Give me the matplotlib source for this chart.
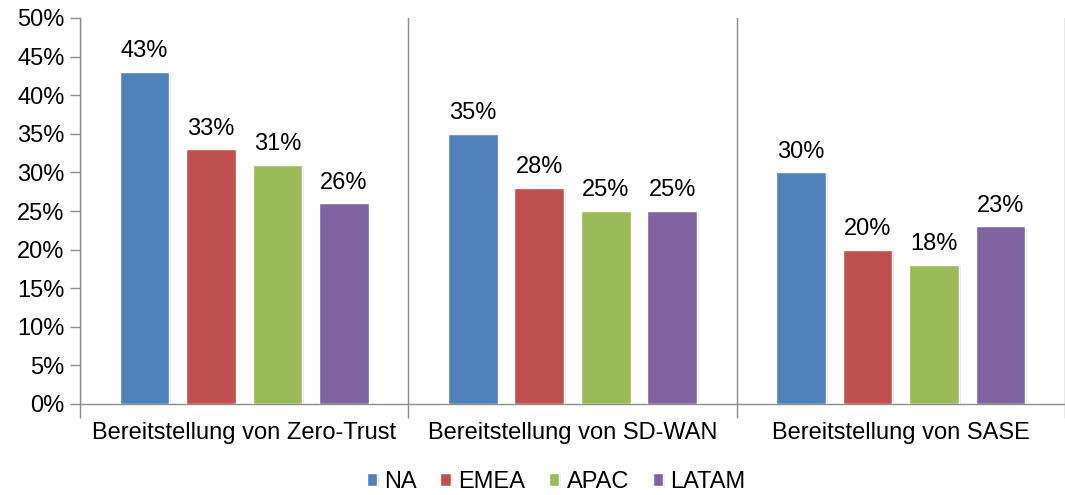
import numpy as np
import matplotlib.pyplot as plt
import matplotlib.patheffects as pe
from matplotlib.ticker import PercentFormatter

categories = ["Bereitstellung von Zero-Trust", "Bereitstellung von SD-WAN", "Bereitstellung von SASE"]
regions = ["NA", "EMEA", "APAC", "LATAM"]
na = [43, 35, 30]
emea = [33, 28, 20]
apac = [31, 25, 18]
latam = [26, 25, 23]
colors = ["#4F81BD", "#C0504D", "#9BBB59", "#8064A2"]

plt.rcParams['font.family'] = ['Liberation Sans', 'DejaVu Sans']

fig = plt.figure(figsize=(10.65, 4.95), dpi=100)
ax = fig.add_axes([80 / 1065, 91 / 495, 985 / 1065, 386 / 495])

x = np.arange(len(categories))
width = 0.151
step = 0.2025
shadow = [pe.SimplePatchShadow(offset=(1.2, -0.8), shadow_rgbFace='#aaaaaa', alpha=0.3), pe.Normal()]
for i, (name, vals) in enumerate(zip(regions, [na, emea, apac, latam])):
    pos = x + (i - 1.5) * step
    bars = ax.bar(pos, vals, width, color=colors[i], edgecolor='white',
                  linewidth=1, label=name, zorder=3)
    for b in bars:
        b.set_path_effects(shadow)
    for b, v in zip(bars, vals):
        ax.annotate(f"{v}%", (b.get_x() + b.get_width() / 2, v),
                    xytext=(0, 7), textcoords='offset points',
                    ha='center', va='bottom', fontsize=17)

ax.set_ylim(0, 50)
ax.set_xlim(-0.5, 2.454)
ax.set_yticks(range(0, 51, 5))
ax.yaxis.set_major_formatter(PercentFormatter(decimals=0))

# category separators as major ticks, labels on minor ticks
ax.set_xticks([-0.5, 0.5, 1.5, 2.5])
ax.set_xticklabels([])
ax.set_xticks(x, minor=True)
ax.set_xticklabels(categories, minor=True)
ax.tick_params(axis='x', which='major', length=10, color='#8c8c8c', width=1)
ax.tick_params(axis='x', which='minor', length=0, pad=13, labelsize=17)
ax.tick_params(axis='y', length=7, color='#8c8c8c', width=1, labelsize=17, pad=4)
ax.grid(axis='x', which='major', color='#8c8c8c', linewidth=1, zorder=0)

for s in ['top', 'right']:
    ax.spines[s].set_visible(False)
for s in ['left', 'bottom']:
    ax.spines[s].set_color('#8c8c8c')
    ax.spines[s].set_linewidth(1)

fig.legend(loc='center', ncol=4, frameon=False, fontsize=17,
           handlelength=0.45, handleheight=0.45, handletextpad=0.3,
           columnspacing=1.0, bbox_to_anchor=(556 / 1065, 1 - 482 / 495))

fig.savefig('out.png', dpi=100)
